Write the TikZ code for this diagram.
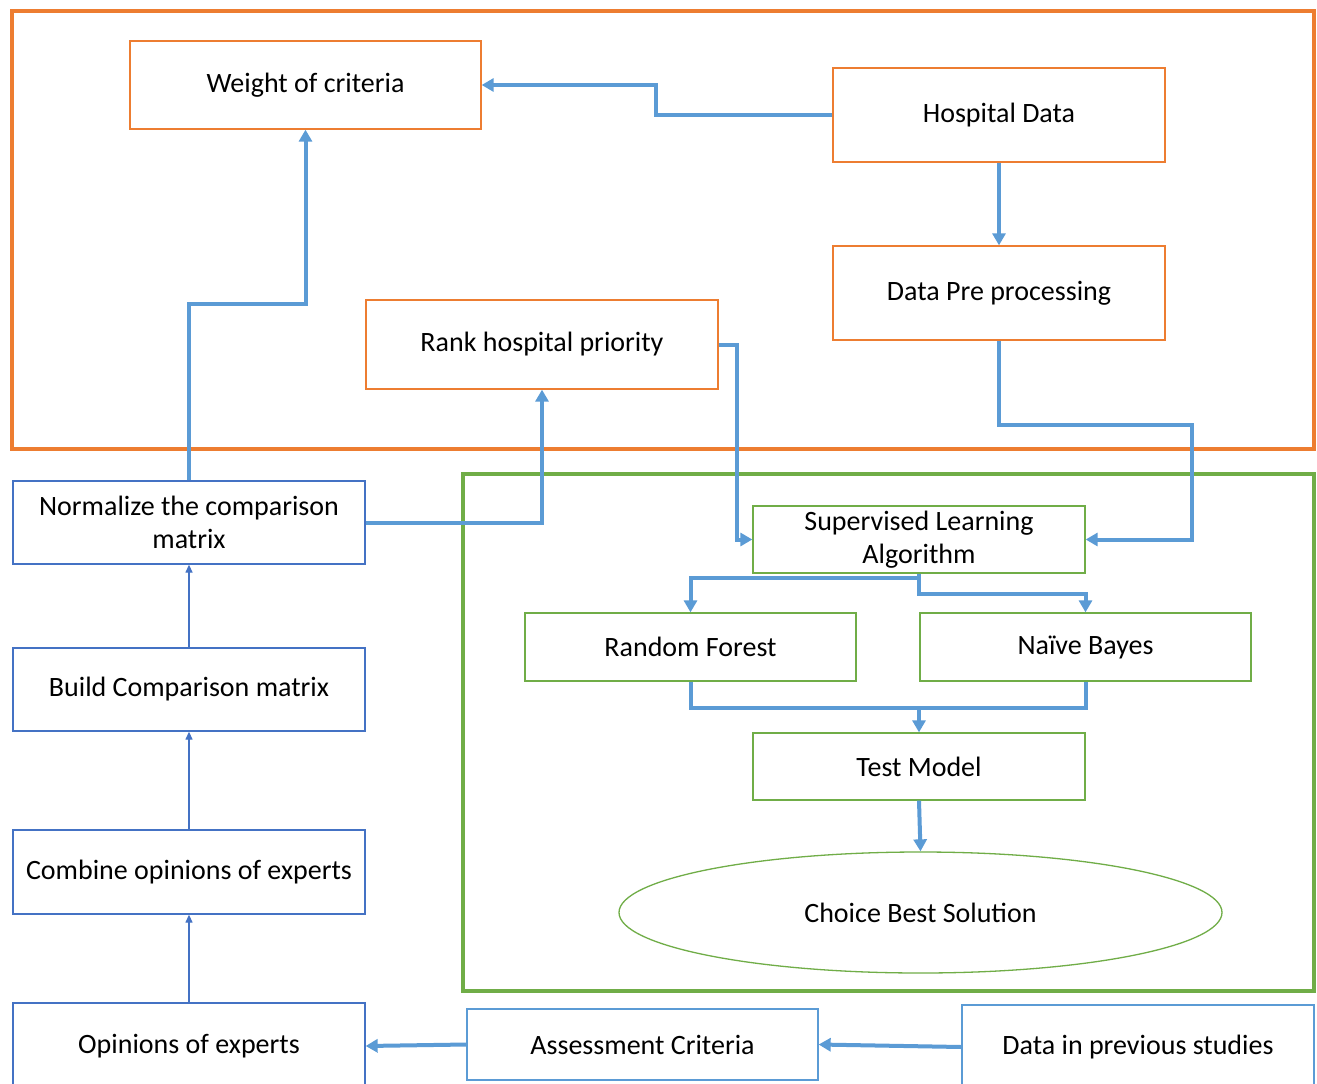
\documentclass[tikz,border=0pt]{standalone}
\usepackage{fontspec}
\setmainfont{Carlito}
\usetikzlibrary{arrows.meta,shapes.geometric}
\definecolor{org}{HTML}{ED7D31}
\definecolor{grn}{HTML}{70AD47}
\definecolor{dblue}{HTML}{4472C4}
\definecolor{lblue}{HTML}{5B9BD5}
\begin{document}
\begin{tikzpicture}[x=1pt,y=-1pt,
  base/.style={draw,line width=1.3pt,inner sep=0pt,align=center,font=\fontsize{28}{33}\selectfont},
  obox/.style={base,draw=org},
  bbox/.style={base,draw=dblue},
  lbox/.style={base,draw=lblue},
  gbox/.style={base,draw=grn},
  conn/.style={draw=lblue,line width=4pt,-{Triangle[length=12pt,width=13pt]}},
  plain/.style={draw=lblue,line width=4pt},
  thin/.style={draw=dblue,line width=1.3pt,-{Triangle[length=8pt,width=7pt]}},
  frame/.style={line width=4pt}]
\clip (0,0) rectangle (1317,1084);
\fill[white] (0,0) rectangle (1317,1084);
% frames
\draw[frame,org] (12,11) rectangle (1314,449);
\draw[frame,grn] (463,474) rectangle (1314,991);
% top group
\node[obox,minimum width=351pt,minimum height=88pt] (weight) at (305.5,85) {Weight of criteria};
\node[obox,minimum width=332pt,minimum height=94pt] (hosp) at (999,115) {Hospital Data};
\node[obox,minimum width=332pt,minimum height=94pt] (prep) at (999,293) {Data Pre processing};
\node[obox,minimum width=352pt,minimum height=89pt] (rank) at (542,344.5) {Rank hospital priority};
% left column
\node[bbox,minimum width=352pt,minimum height=83pt] (norm) at (189,522.5) {Normalize the comparison\\matrix};
\node[bbox,minimum width=352pt,minimum height=83pt] (build) at (189,689.5) {Build Comparison matrix};
\node[bbox,minimum width=352pt,minimum height=84pt] (comb) at (189,872) {Combine opinions of experts};
\node[bbox,minimum width=352pt,minimum height=86pt] (opin) at (189,1046) {Opinions of experts};
% bottom row
\node[lbox,minimum width=351pt,minimum height=71pt] (assess) at (642.5,1044.5) {Assessment Criteria};
\node[lbox,minimum width=352pt,minimum height=84pt] (prev) at (1138,1047) {Data in previous studies};
% green group
\node[gbox,minimum width=332pt,minimum height=67pt] (sup) at (919,539.5) {Supervised Learning\\Algorithm};
\node[gbox,minimum width=331pt,minimum height=68pt] (rf) at (690.5,647) {Random Forest};
\node[gbox,minimum width=331pt,minimum height=68pt] (nb) at (1085.5,647) {Naïve Bayes};
\node[gbox,minimum width=332pt,minimum height=67pt] (test) at (919,766.5) {Test Model};
\node[gbox,ellipse,minimum width=603pt,minimum height=121pt] (ell) at (920.5,912.5) {Choice Best Solution};
% connectors
\draw[conn] (hosp.west) -- ++(-176,0) |- (weight.east);
\draw[conn] (hosp.south) -- (prep.north);
\draw[conn] (prep.south) -- ++(0,84) -- ++(193,0) |- (sup.east);
\draw[conn] (rank.east) -- ++(18,0) |- (sup.west);
\draw[conn] (norm.north) -- ++(0,-176) -| (weight.south);
\draw[conn] (norm.east) -| (rank.south);
\draw[conn] (sup.south) -- ++(0,4) -| (rf.north);
\draw[conn] (sup.south) -- ++(0,20) -| (nb.north);
\draw[plain] (rf.south) -- ++(0,26) -| (nb.south);
\draw[conn] (test.north) ++(0,-26) -- (test.north);
\draw[conn] (test.south) -- (ell.north);
\draw[conn] (assess.west) -- (opin.east);
\draw[conn] (prev.west) -- (assess.east);
\draw[thin] (opin.north) -- (comb.south);
\draw[thin] (comb.north) -- (build.south);
\draw[thin] (build.north) -- (norm.south);
\end{tikzpicture}
\end{document}
